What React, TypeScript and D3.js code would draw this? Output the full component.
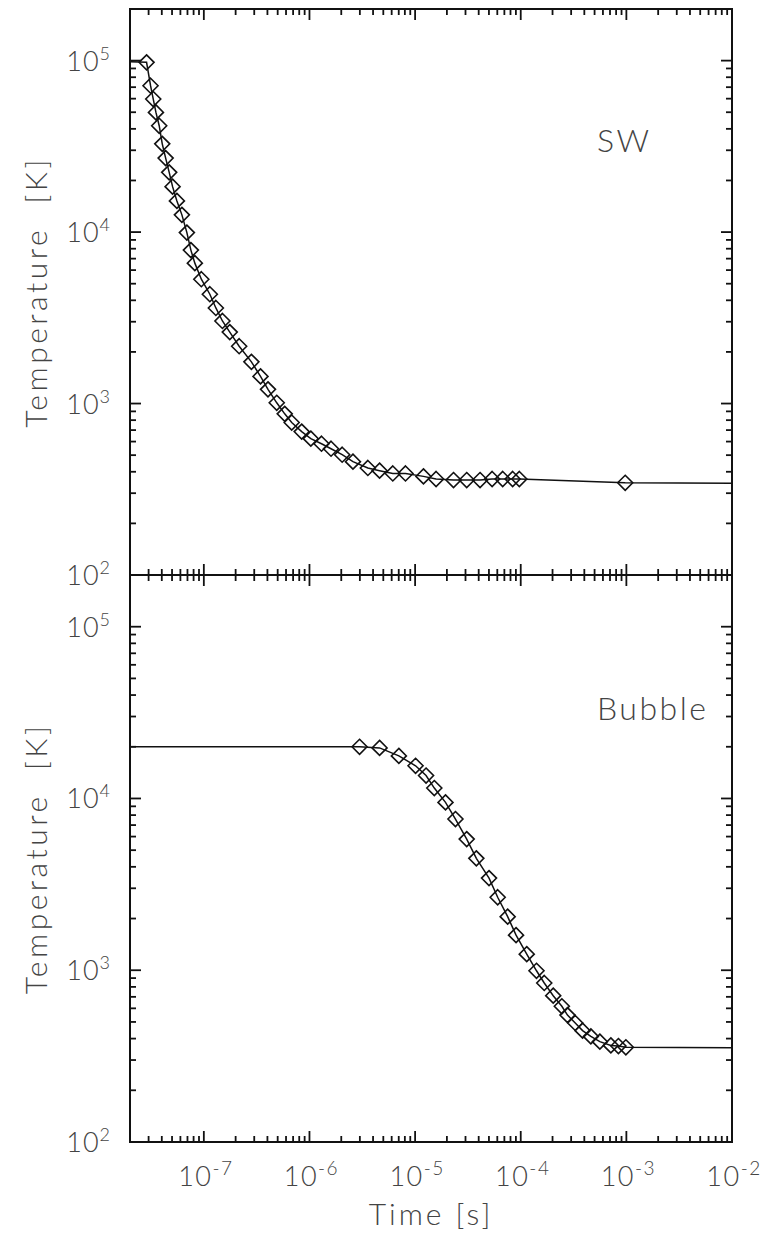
import React from 'react';
import * as d3 from 'd3';

// ---- data ----
const swTime = [2.87e-8, 3.13e-8, 3.32e-8, 3.52e-8, 3.78e-8, 4.04e-8, 4.35e-8, 4.70e-8, 5.06e-8, 5.56e-8, 6.20e-8, 6.91e-8, 7.54e-8, 8.22e-8, 9.47e-8, 1.14e-7, 1.30e-7, 1.50e-7, 1.76e-7, 2.16e-7, 2.82e-7, 3.44e-7, 4.05e-7, 4.90e-7, 5.83e-7, 6.79e-7, 8.44e-7, 1.03e-6, 1.30e-6, 1.60e-6, 2.04e-6, 2.58e-6, 3.57e-6, 4.61e-6, 6.15e-6, 8.11e-6, 1.20e-5, 1.58e-5, 2.31e-5, 3.08e-5, 4.12e-5, 5.36e-5, 6.75e-5, 8.38e-5, 9.70e-5, 9.75e-4];
const swTemp = [97700, 71400, 59700, 49900, 41700, 32700, 27000, 22300, 18400, 15200, 12600, 9930, 7850, 6590, 5310, 4340, 3610, 3030, 2610, 2160, 1750, 1440, 1210, 1010, 871, 775, 686, 624, 583, 545, 503, 458, 421, 406, 391, 391, 376, 363, 358, 358, 358, 363, 363, 363, 363, 345];
const swLineStart = [1e-8, 1e5];
const swLineEnd = [1e-2, 343];

const bubbleTime = [2.98e-6, 4.61e-6, 7.02e-6, 1.01e-5, 1.27e-5, 1.52e-5, 1.94e-5, 2.41e-5, 3.08e-5, 3.80e-5, 5.01e-5, 6.05e-5, 7.52e-5, 9.03e-5, 1.14e-4, 1.41e-4, 1.67e-4, 2.03e-4, 2.45e-4, 2.77e-4, 3.28e-4, 3.85e-4, 4.61e-4, 5.61e-4, 7.13e-4, 8.41e-4, 9.89e-4];
const bubbleTemp = [20000, 19700, 17700, 15500, 13600, 11500, 9490, 7590, 5800, 4480, 3440, 2660, 2050, 1600, 1240, 993, 843, 711, 617, 548, 493, 445, 412, 384, 365, 362, 356];
const bubbleLineStart = [1e-8, 2e4];
const bubbleLineEnd = [1e-2, 354];

const xDomain = [2e-8, 1e-2];
const yDomain = [100, 2e5];
const xTickExps = [-7, -6, -5, -4, -3, -2];
const yTickExps = [2, 3, 4, 5];
const panelLabels = ['SW', 'Bubble'];
const yTitle = 'Temperature  [K]';
const xTitle = 'Time [s]';

// ---- layout ----
const W = 767, H = 1238;
const left = 130, right = 732;
const panels = [
  { top: 9, bottom: 575 },
  { top: 575, bottom: 1142 },
];
const FONT = 'Lato, "DejaVu Sans", sans-serif';
const TXT = '#444';
const MAJ = 11, MIN = 6;

const x = d3.scaleLog().domain(xDomain).range([left, right]);

function minorTicks(domain: number[]) {
  const out: { v: number; major: boolean }[] = [];
  const lo = Math.floor(Math.log10(domain[0]));
  const hi = Math.ceil(Math.log10(domain[1]));
  for (let e = lo; e <= hi; e++) {
    for (let k = 1; k <= 9; k++) {
      const v = k * Math.pow(10, e);
      if (v >= domain[0] * 0.9999 && v <= domain[1] * 1.0001) out.push({ v, major: k === 1 });
    }
  }
  return out;
}

const Diamond = ({ cx, cy }: { cx: number; cy: number }) => {
  const r = 7.5;
  return <path d={`M${cx},${cy - r}L${cx + r},${cy}L${cx},${cy + r}L${cx - r},${cy}Z`} fill="none" stroke="#111" strokeWidth={1.6} />;
};

function Panel({ idx, times, temps, start, end, label, showX }: any) {
  const p = panels[idx];
  const y = d3.scaleLog().domain(yDomain).range([p.bottom, p.top]);
  const pts: [number, number][] = [[start[0], start[1]], ...times.map((t: number, i: number) => [t, temps[i]] as [number, number]), [end[0], end[1]]];
  const line = d3.line<[number, number]>().x(d => x(d[0])).y(d => y(d[1]));
  const xt = minorTicks(xDomain);
  const yt = minorTicks(yDomain);
  const clipId = `clip${idx}`;
  return (
    <g>
      <defs>
        <clipPath id={clipId}>
          <rect x={left} y={p.top} width={right - left} height={p.bottom - p.top} />
        </clipPath>
      </defs>
      <g clipPath={`url(#${clipId})`}>
        <path d={line(pts) || ''} fill="none" stroke="#111" strokeWidth={1.5} />
        {times.map((t: number, i: number) => (
          <Diamond key={i} cx={x(t)} cy={y(temps[i])} />
        ))}
      </g>
      {xt.map((d, i) => {
        const L = d.major ? MAJ : MIN;
        const xx = x(d.v);
        return (
          <g key={'x' + i}>
            <line x1={xx} x2={xx} y1={p.bottom} y2={p.bottom - L} stroke="#111" strokeWidth={1.8} />
            <line x1={xx} x2={xx} y1={p.top} y2={p.top + L} stroke="#111" strokeWidth={1.8} />
          </g>
        );
      })}
      {yt.map((d, i) => {
        const L = d.major ? MAJ : MIN;
        const yy = y(d.v);
        return (
          <g key={'y' + i}>
            <line x1={left} x2={left + L} y1={yy} y2={yy} stroke="#111" strokeWidth={1.8} />
            <line x1={right} x2={right - L} y1={yy} y2={yy} stroke="#111" strokeWidth={1.8} />
          </g>
        );
      })}
      <rect x={left} y={p.top} width={right - left} height={p.bottom - p.top} fill="none" stroke="#111" strokeWidth={2} />
      {yTickExps.map(e => (
        <text key={'yl' + e} x={111} y={y(Math.pow(10, e)) + 10} textAnchor="end" fontFamily={FONT} fontWeight={300} fontSize={27} fill={TXT} letterSpacing={1}>
          10<tspan dy={-11} fontSize={18}>{e}</tspan>
        </text>
      ))}
      {showX && xTickExps.map(e => (
        <text key={'xl' + e} x={x(Math.pow(10, e)) + 2} y={1186} textAnchor="middle" fontFamily={FONT} fontWeight={300} fontSize={27} fill={TXT} letterSpacing={1.5}>
          10<tspan dy={-11} fontSize={19}>{'-' + Math.abs(e)}</tspan>
        </text>
      ))}
      <text x={597} y={idx === 0 ? 152 : 720} fontFamily={FONT} fontWeight={300} fontSize={32} fill={TXT} letterSpacing={2.5}>{label}</text>
      <text transform={`translate(47,${(p.top + p.bottom) / 2}) rotate(-90)`} textAnchor="middle" fontFamily={FONT} fontWeight={300} fontSize={30} fill={TXT} letterSpacing={3.5} style={{ whiteSpace: 'pre' }}>{yTitle}</text>
    </g>
  );
}

export default function App() {
  return (
    <svg width={W} height={H} style={{ position: 'absolute', left: 0, top: 0, background: '#fff' }}>
      <rect width={W} height={H} fill="#fff" />
      <Panel idx={0} times={swTime} temps={swTemp} start={swLineStart} end={swLineEnd} label={panelLabels[0]} showX={false} />
      <Panel idx={1} times={bubbleTime} temps={bubbleTemp} start={bubbleLineStart} end={bubbleLineEnd} label={panelLabels[1]} showX={true} />
      <text x={(left + right) / 2} y={1225} textAnchor="middle" fontFamily={FONT} fontWeight={300} fontSize={30} fill={TXT} letterSpacing={3} style={{ whiteSpace: 'pre' }}>{xTitle}</text>
    </svg>
  );
}
